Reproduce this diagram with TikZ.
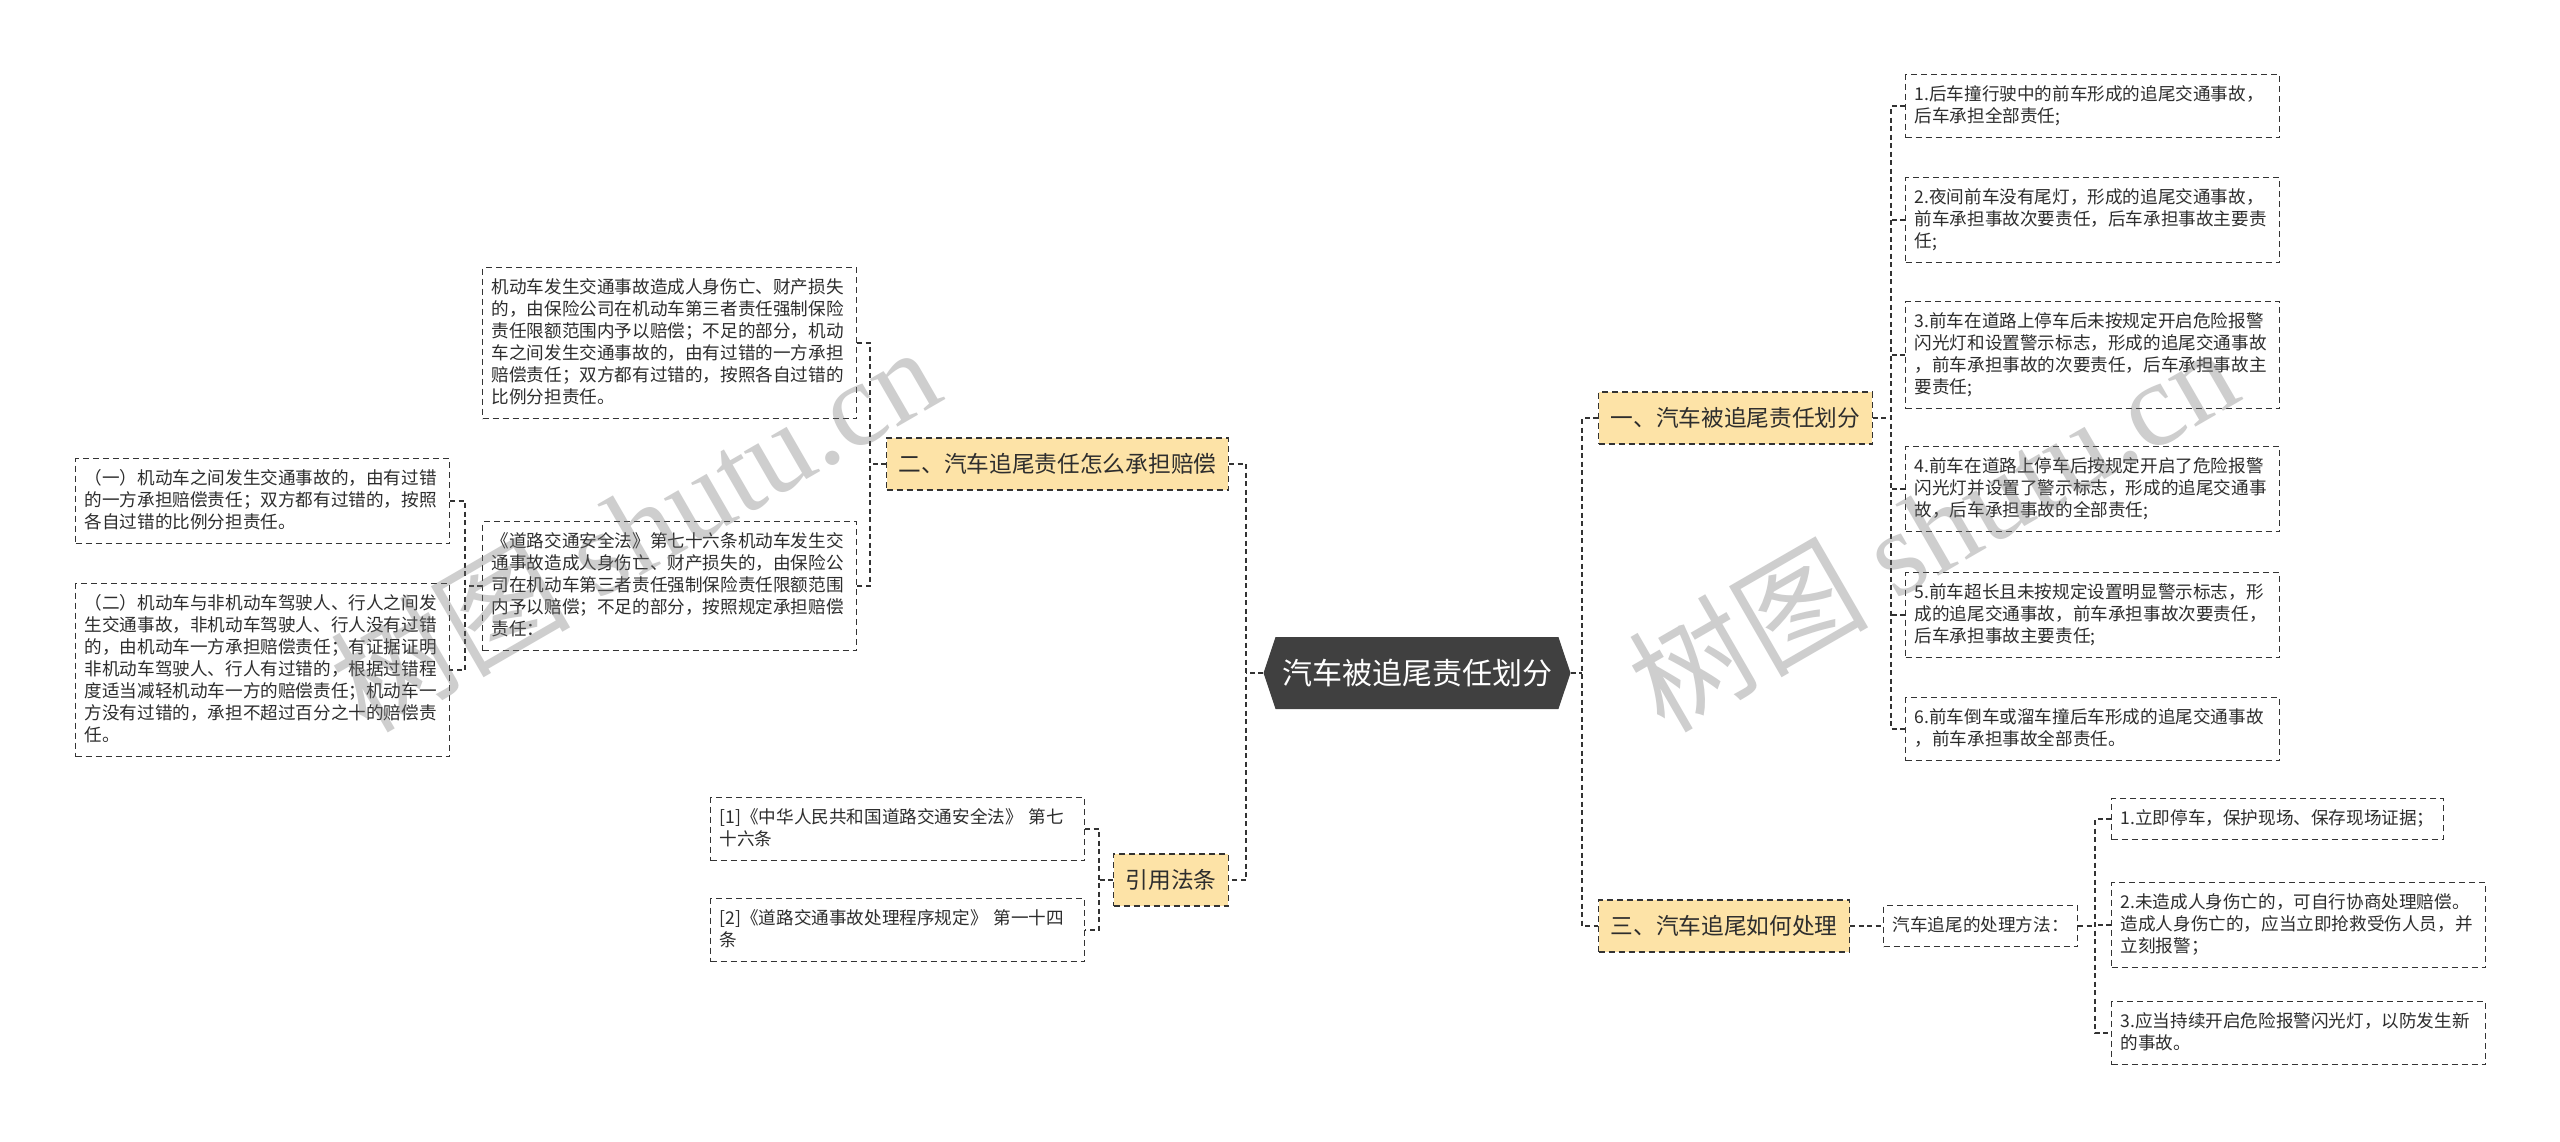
\documentclass[tikz,border=0pt]{standalone}
\usepackage{fontspec}
\setmainfont{Noto Sans CJK SC}
\newfontfamily\wmfont{Liberation Serif}
\usetikzlibrary{shapes.symbols}
\definecolor{boxline}{RGB}{51,51,51}
\definecolor{txt}{RGB}{45,45,45}
\definecolor{yel}{RGB}{253,227,167}
\definecolor{rootc}{RGB}{64,64,64}
\newcommand\mystrut{\rule[-5.6pt]{0pt}{22pt}}
\tikzset{
 dashbox/.style={draw=boxline, line width=1.2pt, dash pattern=on 6pt off 4pt},
 cbox/.style={dashbox, fill=white, text=txt, align=left, text width=356pt, inner xsep=9pt, inner ysep=9.5pt, font=\fontsize{17.6}{22}\selectfont, execute at begin node=\mystrut, execute at end node=\mystrut},
 sbox/.style={dashbox, fill=white, text=txt, inner xsep=9pt, inner ysep=9.5pt, font=\fontsize{17.6}{22}\selectfont, execute at begin node=\mystrut},
 ybox/.style={dashbox, fill=yel, text=txt, inner xsep=12pt, inner ysep=0pt, minimum height=52pt, font=\fontsize{22.7}{27}\selectfont},
 conn/.style={draw=boxline, line width=1.6pt, dash pattern=on 5pt off 3.5pt},
 rootnode/.style={signal, signal to=west and east, signal pointer angle=143, fill=rootc, text=white, minimum width=307pt, minimum height=72pt, inner sep=0pt, font=\fontsize{30}{36}\selectfont},
 wm/.style={rotate=30, text=black!55, opacity=0.35, font=\fontsize{120}{120}\selectfont},
}
\begin{document}
\begin{tikzpicture}[x=1pt,y=-1pt]
\useasboundingbox (0,0) rectangle (2560,1141);
\fill[white] (0,0) rectangle (2560,1141);

% root
\node[rootnode] (root) at (1417,673) {汽车被追尾责任划分};

% main branches
\node[ybox, anchor=west] (b1) at (1598,418) {一、汽车被追尾责任划分};
\node[ybox, anchor=west] (b3) at (1598,926) {三、汽车追尾如何处理};
\node[ybox, anchor=east] (b2) at (1229,464) {二、汽车追尾责任怎么承担赔偿};
\node[ybox, anchor=east] (b4) at (1229,880) {引用法条};

% children of b1
\node[cbox, anchor=west] (a1) at (1905,106) {1.后车撞行驶中的前车形成的追尾交通事故，\\后车承担全部责任;};
\node[cbox, anchor=west] (a2) at (1905,220) {2.夜间前车没有尾灯，形成的追尾交通事故，\\前车承担事故次要责任，后车承担事故主要责\\任;};
\node[cbox, anchor=west] (a3) at (1905,355) {3.前车在道路上停车后未按规定开启危险报警\\闪光灯和设置警示标志，形成的追尾交通事故\\，前车承担事故的次要责任，后车承担事故主\\要责任;};
\node[cbox, anchor=west] (a4) at (1905,489) {4.前车在道路上停车后按规定开启了危险报警\\闪光灯并设置了警示标志，形成的追尾交通事\\故，后车承担事故的全部责任;};
\node[cbox, anchor=west] (a5) at (1905,615) {5.前车超长且未按规定设置明显警示标志，形\\成的追尾交通事故，前车承担事故次要责任，\\后车承担事故主要责任;};
\node[cbox, anchor=west] (a6) at (1905,729) {6.前车倒车或溜车撞后车形成的追尾交通事故\\，前车承担事故全部责任。};

% children of b2
\node[cbox, anchor=west] (c1) at (482,343) {机动车发生交通事故造成人身伤亡、财产损失\\的，由保险公司在机动车第三者责任强制保险\\责任限额范围内予以赔偿；不足的部分，机动\\车之间发生交通事故的，由有过错的一方承担\\赔偿责任；双方都有过错的，按照各自过错的\\比例分担责任。};
\node[cbox, anchor=west] (c2) at (482,586) {《道路交通安全法》第七十六条机动车发生交\\通事故造成人身伤亡、财产损失的，由保险公\\司在机动车第三者责任强制保险责任限额范围\\内予以赔偿；不足的部分，按照规定承担赔偿\\责任：};

% children of c2
\node[cbox, anchor=west] (d1) at (75,501) {（一）机动车之间发生交通事故的，由有过错\\的一方承担赔偿责任；双方都有过错的，按照\\各自过错的比例分担责任。};
\node[cbox, anchor=west] (d2) at (75,670) {（二）机动车与非机动车驾驶人、行人之间发\\生交通事故，非机动车驾驶人、行人没有过错\\的，由机动车一方承担赔偿责任；有证据证明\\非机动车驾驶人、行人有过错的，根据过错程\\度适当减轻机动车一方的赔偿责任；机动车一\\方没有过错的，承担不超过百分之十的赔偿责\\任。};

% children of b4
\node[cbox, anchor=west] (e1) at (710,829) {[1]《中华人民共和国道路交通安全法》 第七\\十六条};
\node[cbox, anchor=west] (e2) at (710,930) {[2]《道路交通事故处理程序规定》 第一十四\\条};

% children of b3
\node[sbox, anchor=west] (f0) at (1883,926) {汽车追尾的处理方法：};
\node[sbox, anchor=west] (f1) at (2111,819) {1.立即停车，保护现场、保存现场证据；};
\node[cbox, anchor=west] (f2) at (2111,925) {2.未造成人身伤亡的，可自行协商处理赔偿。\\造成人身伤亡的，应当立即抢救受伤人员，并\\立刻报警；};
\node[cbox, anchor=west] (f3) at (2111,1033) {3.应当持续开启危险报警闪光灯，以防发生新\\的事故。};

% spine coordinates
\coordinate (sR) at (1582,673);
\coordinate (sL) at (1246,673);
\coordinate (s1) at (1891,418);
\coordinate (s2) at (870,464);
\coordinate (s3) at (465,586);
\coordinate (s4) at (1099,880);
\coordinate (s5) at (2095,926);

% connectors
\draw[conn] (root.east) -- (sR);
\draw[conn] (b1.west) -| (sR) |- (b3.west);
\draw[conn] (root.west) -- (sL);
\draw[conn] (b2.east) -| (sL) |- (b4.east);

\draw[conn] (b1.east) -- (s1);
\draw[conn] (a1.west) -| (s1) |- (a6.west);
\draw[conn] (a2.west) -- (a2.west -| s1);
\draw[conn] (a3.west) -- (a3.west -| s1);
\draw[conn] (a4.west) -- (a4.west -| s1);
\draw[conn] (a5.west) -- (a5.west -| s1);

\draw[conn] (b2.west) -- (s2);
\draw[conn] (c1.east) -| (s2) |- (c2.east);

\draw[conn] (c2.west) -- (s3);
\draw[conn] (d1.east) -| (s3) |- (d2.east);

\draw[conn] (b4.west) -- (s4);
\draw[conn] (e1.east) -| (s4) |- (e2.east);

\draw[conn] (b3.east) -- (f0.west);
\draw[conn] (f0.east) -- (s5);
\draw[conn] (f1.west) -| (s5) |- (f3.west);
\draw[conn] (f2.west) -- (f2.west -| s5);

% watermarks
\node[wm] (wm1) at (634,527) {树图 {\wmfont shutu.cn}};
\node[wm] (wm2) at (1932,527) {树图 {\wmfont shutu.cn}};
\end{tikzpicture}
\end{document}
